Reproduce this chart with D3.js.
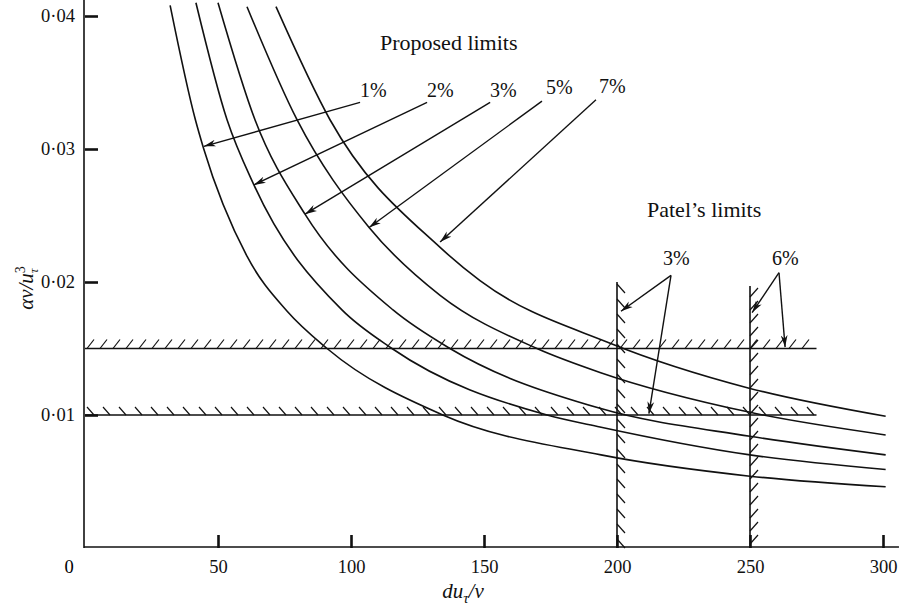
<!DOCTYPE html>
<html>
<head>
<meta charset="utf-8">
<script src="https://cdn.jsdelivr.net/npm/d3@7"></script>
<style>
  body { margin: 0; background: #fff; }
  svg { display: block; font-family: "Liberation Serif", "Times New Roman", serif; }
  .curve { fill: none; stroke: #111; stroke-width: 1.6; }
  .limit { stroke: #111; stroke-width: 1.6; }
  .hatch { stroke: #111; stroke-width: 1.2; }
  .arrow { stroke: #111; stroke-width: 1.4; fill: none; }
  .tick text { font-family: "Liberation Serif", "Times New Roman", serif; font-size: 18.5px; fill: #111; }
  .tick line { stroke: #111; stroke-width: 2.6; }
  .lbl { font-size: 20px; fill: #111; }
  .head { font-size: 22px; fill: #111; }
</style>
</head>
<body>
<script>
// values (x = du_tau/nu, y = alpha nu / u_tau^3)
var xTicks = [50, 100, 150, 200, 250, 300];
var yTicks = [0.01, 0.02, 0.03, 0.04];

var curveNames = ["1%", "2%", "3%", "5%", "7%"];
var curve1 = [[32, 0.0408], [41.5, 0.0322], [44.5, 0.0301], [61, 0.0219], [76, 0.0178], [91, 0.0150], [134.5, 0.0100], [194, 0.0070], [250, 0.0054], [301, 0.0046]];
var curve2 = [[41.7, 0.0410], [53.4, 0.0322], [63.5, 0.0273], [96.6, 0.0179], [115.4, 0.0150], [173.7, 0.0100], [193.6, 0.0091], [250, 0.0070], [301, 0.0059]];
var curve3 = [[50, 0.0410], [63.9, 0.0322], [82.7, 0.0251], [115.8, 0.0179], [137.2, 0.0150], [193.6, 0.0105], [250, 0.0084], [301, 0.0070]];
var curve5 = [[60.9, 0.0407], [79.7, 0.0322], [106.8, 0.0241], [133.5, 0.0190], [169.9, 0.0150], [193.6, 0.0132], [250, 0.0102], [301, 0.0085]];
var curve7 = [[71.8, 0.0407], [92.1, 0.0322], [133.5, 0.0226], [148.5, 0.0201], [197.4, 0.0154], [250, 0.0120], [301, 0.0099]];
var curves = [curve1, curve2, curve3, curve5, curve7];

// Patel's limits: horizontal [y, xFrom, xTo, hatch dir], vertical [x, yFrom, yTo, hatch dir]
var patelH = [[0.015, 0, 275, "/"], [0.010, 0, 275, "\\"]];
var patelV = [[200, 0, 0.0200, "\\"], [250, 0, 0.0197, "/"]];

// proposed-limit labels: [text, label x, label y, arrow from x, from y, tip x, tip y]
var proposedLabels = [
  ["1%", 103.4, 0.0339, 103.4, 0.0335, 44.7, 0.0302],
  ["2%", 128.6, 0.0339, 128.6, 0.0335, 63.5, 0.0273],
  ["3%", 152.3, 0.0339, 152.3, 0.0335, 82.7, 0.0251],
  ["5%", 173.3, 0.0341, 171.8, 0.0336, 106.8, 0.0241],
  ["7%", 193.2, 0.0342, 192.1, 0.0337, 133.5, 0.0230]
];
// Patel labels: [text, label x, label y, apex x, apex y, [tips]]
var patelLabels = [
  ["3%", 217.3, 0.0213, 220.3, 0.0205, [[201.5, 0.0178], [212.0, 0.0101]]],
  ["6%", 258.3, 0.0213, 260.9, 0.0207, [[250.8, 0.0177], [263.2, 0.0151]]]
];

var width = 901, height = 611;

var svg = d3.select("body").append("svg")
    .attr("width", width)
    .attr("height", height);

var x = d3.scaleLinear().domain([0, 300]).range([85, 883]);
var y = d3.scaleLinear().domain([0, 0.04]).range([548, 16]);

svg.append("defs").append("marker")
    .attr("id", "head")
    .attr("markerUnits", "userSpaceOnUse")
    .attr("markerWidth", 13).attr("markerHeight", 8)
    .attr("refX", 12).attr("refY", 4)
    .attr("orient", "auto")
  .append("path")
    .attr("d", "M0,0.6 L12,4 L0,7.4 L3.5,4 Z")
    .attr("fill", "#111");

// axes
var fmt = function(d) { return d3.format(".2f")(d).replace(".", "\u00b7"); };

var gx = svg.append("g")
    .attr("transform", "translate(0," + y(0) + ")")
    .call(d3.axisBottom(x).tickValues(xTicks).tickSize(-13).tickPadding(12));
gx.select(".domain").remove();

var gy = svg.append("g")
    .attr("transform", "translate(" + x(0) + ",0)")
    .call(d3.axisLeft(y).tickValues(yTicks).tickSize(-13).tickPadding(10).tickFormat(fmt));
gy.select(".domain").remove();

svg.append("line").attr("class", "limit")
    .attr("x1", x(0) - 1).attr("x2", x(306))
    .attr("y1", y(0) - 1).attr("y2", y(0) - 1)
    .attr("stroke-width", 2.6);
svg.append("line").attr("class", "limit")
    .attr("x1", x(0) - 1).attr("x2", x(0) - 1)
    .attr("y1", y(0)).attr("y2", y(0.0414))
    .attr("stroke-width", 2.8);

svg.append("text")
    .attr("x", x(0) - 16).attr("y", y(0) + 12)
    .attr("dy", "0.71em")
    .attr("text-anchor", "middle")
    .style("font-size", "18.5px")
    .text("0");

// curves
var line = d3.line()
    .x(function(d) { return x(d[0]); })
    .y(function(d) { return y(d[1]); })
    .curve(d3.curveMonotoneX);

svg.selectAll(".curve")
    .data(curves)
    .enter().append("path")
    .attr("class", "curve")
    .attr("d", line);

// Patel's hatched limits
patelH.forEach(function(h) {
  var yy = y(h[0]), x0 = x(h[1]), x1 = x(h[2]);
  svg.append("line").attr("class", "limit")
      .attr("x1", x0).attr("x2", x1).attr("y1", yy).attr("y2", yy);
  var step = h[3] == "/" ? 13 : 16;
  d3.range(x0 + 2, x1 - 6, step).forEach(function(p) {
    if (h[3] == "/") {
      svg.append("line").attr("class", "hatch")
          .attr("x1", p).attr("y1", yy).attr("x2", p + 7).attr("y2", yy - 9);
    } else {
      svg.append("line").attr("class", "hatch")
          .attr("x1", p).attr("y1", yy - 8).attr("x2", p + 7).attr("y2", yy);
    }
  });
});

patelV.forEach(function(v) {
  var xx = x(v[0]), y0 = y(v[1]), y1 = y(v[2]);
  svg.append("line").attr("class", "limit")
      .attr("x1", xx).attr("x2", xx).attr("y1", y0).attr("y2", y1);
  var step = v[3] == "/" ? 13 : 15;
  d3.range(y1 + 2, y0 - 4, step).forEach(function(p) {
    if (v[3] == "/") {
      svg.append("line").attr("class", "hatch")
          .attr("x1", xx).attr("y1", p + 9).attr("x2", xx + 8).attr("y2", p);
    } else {
      svg.append("line").attr("class", "hatch")
          .attr("x1", xx).attr("y1", p).attr("x2", xx + 8).attr("y2", p + 9);
    }
  });
});

// annotations
svg.append("text").attr("class", "head")
    .attr("x", 380).attr("y", 50)
    .text("Proposed limits");
svg.append("text").attr("class", "head")
    .attr("x", 647).attr("y", 217)
    .text("Patel\u2019s limits");

proposedLabels.forEach(function(a) {
  svg.append("text").attr("class", "lbl")
      .attr("x", x(a[1])).attr("y", y(a[2]))
      .text(a[0]);
  svg.append("line").attr("class", "arrow")
      .attr("x1", x(a[3])).attr("y1", y(a[4]))
      .attr("x2", x(a[5])).attr("y2", y(a[6]))
      .attr("marker-end", "url(#head)");
});

patelLabels.forEach(function(a) {
  svg.append("text").attr("class", "lbl")
      .attr("x", x(a[1])).attr("y", y(a[2]))
      .text(a[0]);
  a[5].forEach(function(t) {
    svg.append("line").attr("class", "arrow")
        .attr("x1", x(a[3])).attr("y1", y(a[4]))
        .attr("x2", x(t[0])).attr("y2", y(t[1]))
        .attr("marker-end", "url(#head)");
  });
});

// axis titles
var xt = svg.append("text").attr("class", "lbl")
    .attr("x", 463).attr("y", 598)
    .attr("text-anchor", "middle")
    .style("font-size", "21px")
    .style("font-style", "italic");
xt.append("tspan").text("du");
xt.append("tspan").attr("dy", 5).style("font-size", "15px").text("\u03c4");
xt.append("tspan").attr("dy", -5).text("/\u03bd");

var yt = svg.append("text").attr("class", "lbl")
    .attr("transform", "translate(33,288) rotate(-90)")
    .attr("text-anchor", "middle")
    .style("font-size", "21px")
    .style("font-style", "italic");
yt.append("tspan").text("\u03b1\u03bd/u");
yt.append("tspan").attr("dy", -8).style("font-size", "14px").style("font-style", "normal").text("3");
yt.append("tspan").attr("dx", -7).attr("dy", 13).style("font-size", "13px").text("\u03c4");
</script>
</body>
</html>
